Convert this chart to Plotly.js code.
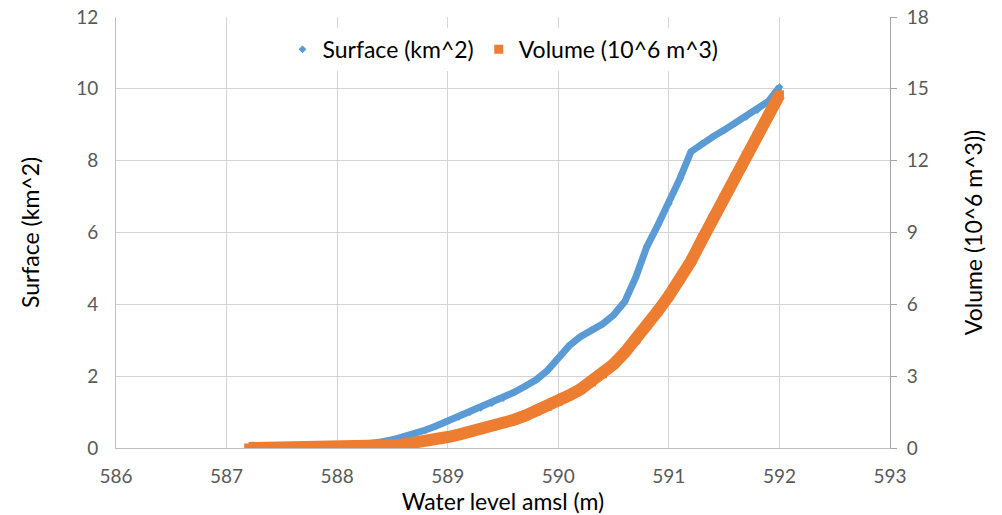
<!DOCTYPE html>
<html>
<head>
<meta charset="utf-8">
<script src="https://cdn.plot.ly/plotly-3.0.1.min.js"></script>
<style>html,body{margin:0;padding:0;background:#fff;}#chart{width:1002px;height:515px;}</style>
</head>
<body>
<div id="chart"></div>
<script>
// Water level (m amsl)
const waterLevel = [587.2,587.3,587.4,587.5,587.6,587.7,587.8,587.9,588.0,588.1,588.2,588.3,588.4,588.5,588.6,588.7,588.8,588.9,589.0,589.1,589.2,589.3,589.4,589.5,589.6,589.7,589.8,589.9,590.0,590.1,590.2,590.3,590.4,590.5,590.6,590.7,590.8,590.9,591.0,591.1,591.2,591.3,591.4,591.5,591.6,591.7,591.8,591.9,592.0];
// Surface (km^2)
const surface = [0,0,0,0,0,0,0.01,0.02,0.03,0.05,0.08,0.12,0.17,0.23,0.31,0.40,0.50,0.62,0.75,0.87,1.0,1.12,1.25,1.39,1.55,1.72,1.9,2.15,2.5,2.85,3.1,3.28,3.45,3.7,4.07,4.75,5.6,6.2,6.8,7.5,8.25,8.48,8.67,8.85,9.04,9.22,9.41,9.65,10.05];
// Volume (10^6 m^3)
const volume = [0,0,0,0,0,0,0.005,0.01,0.02,0.03,0.04,0.06,0.08,0.11,0.15,0.2,0.27,0.36,0.46,0.56,0.67,0.78,0.9,1.03,1.18,1.35,1.54,1.74,1.96,2.2,2.45,2.76,3.1,3.5,3.98,4.52,5.12,5.72,6.35,7.05,7.8,8.7,9.6,10.45,11.3,12.2,13.05,13.9,14.75];

const xTicks = [586,587,588,589,590,591,592,593];
const yLeftTicks = [0,2,4,6,8,10,12];
const yRightTicks = [0,3,6,9,12,15,18];

const names = {surface: 'Surface (km^2)', volume: 'Volume (10^6 m^3)'};
const blue = '#5b9bd5', orange = '#ed7d31';

const traces = [
  {x: waterLevel, y: surface, type: 'scatter', mode: 'lines', line: {color: blue, width: 7}, showlegend: false, hoverinfo: 'skip', yaxis: 'y'},
  {x: waterLevel, y: surface, type: 'scatter', mode: 'markers', name: names.surface, marker: {symbol: 'diamond', color: blue, size: 6}, yaxis: 'y'},
  {x: waterLevel, y: volume, type: 'scatter', mode: 'lines', line: {color: orange, width: 12}, showlegend: false, hoverinfo: 'skip', yaxis: 'y2'},
  {x: waterLevel, y: volume, type: 'scatter', mode: 'markers', name: names.volume, marker: {symbol: 'square', color: orange, size: 9}, yaxis: 'y2'}
];

const font = 'Lato, "Open Sans", "Liberation Sans", sans-serif';
const layout = {
  width: 1002, height: 515,
  margin: {l: 116, r: 112, t: 17, b: 67},
  paper_bgcolor: '#fff', plot_bgcolor: '#fff',
  font: {family: font, size: 19, color: '#595959'},
  showlegend: true,
  legend: {orientation: 'h', x: 0.5, xanchor: 'center', y: 0.925, yanchor: 'middle', bgcolor: '#fff', font: {family: font, size: 23, color: '#000'}, itemsizing: 'trace', traceorder: 'normal', itemwidth: 30},
  xaxis: {
    range: [586, 593], tickvals: xTicks, ticktext: xTicks.map(String),
    showgrid: true, gridcolor: '#d4d4d4', gridwidth: 1,
    showline: true, linecolor: '#bfbfbf', linewidth: 1, zeroline: false,
    ticks: '', ticklabelstandoff: 11, tickfont: {size: 19, color: '#595959'},
    title: {text: 'Water level amsl (m)', font: {size: 23, color: '#000'}, standoff: 4}
  },
  yaxis: {
    range: [0, 12], tickvals: yLeftTicks, ticktext: yLeftTicks.map(String),
    showgrid: true, gridcolor: '#d4d4d4', gridwidth: 1,
    showline: true, linecolor: '#bfbfbf', linewidth: 1, zeroline: false,
    ticks: '', ticklabelstandoff: 13, tickfont: {size: 19, color: '#595959'},
    title: {text: 'Surface (km^2)', font: {size: 23, color: '#000'}, standoff: 30}
  },
  yaxis2: {
    range: [0, 18], tickvals: yRightTicks, ticktext: yRightTicks.map(String),
    overlaying: 'y', side: 'right', showgrid: false,
    showline: true, linecolor: '#a6a6a6', linewidth: 1, zeroline: false,
    ticks: 'outside', ticklen: 6, tickcolor: '#a6a6a6', ticklabelstandoff: 6, tickfont: {size: 19, color: '#595959'},
    title: {text: 'Volume (10^6 m^3))', font: {size: 23, color: '#000'}, standoff: 38}
  }
};

Plotly.newPlot('chart', traces, layout, {displayModeBar: false, staticPlot: true});
</script>
</body>
</html>
